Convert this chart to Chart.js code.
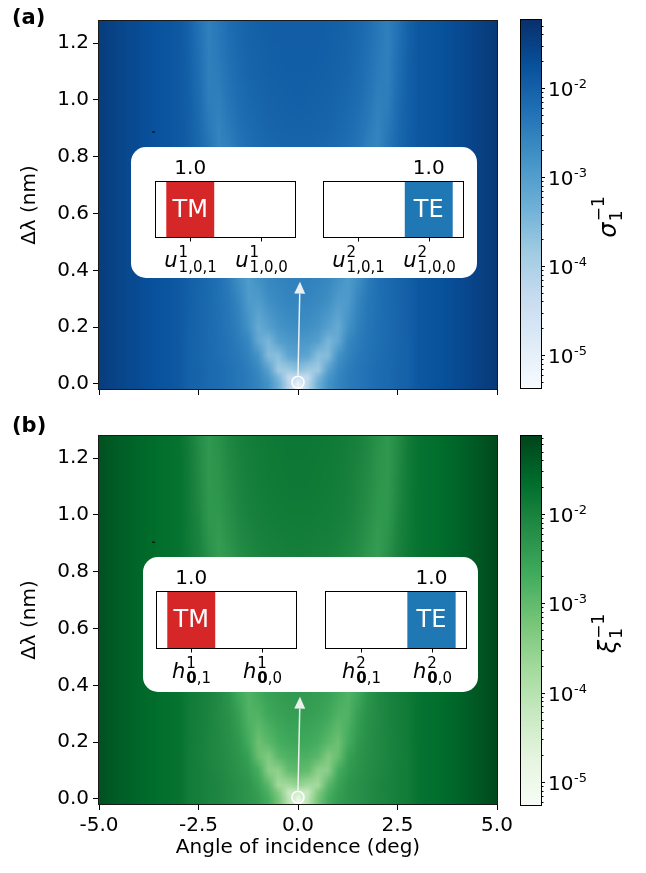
<!DOCTYPE html>
<html>
<head>
<meta charset="utf-8">
<title>Mode maps</title>
<script src="https://cdn.jsdelivr.net/npm/chart.js@4.4.1/dist/chart.umd.min.js"></script>
<style>
  body { margin: 0; background: #fff; }
  #fig { position: relative; width: 646px; height: 873px; overflow: hidden; background: #fff; }
  #fig canvas, #fig .box { position: absolute; }
  .box { background: #fff; border-radius: 15px; }
</style>
</head>
<body>
<div id="fig">
  <canvas id="mapA"></canvas>
  <canvas id="cbarA"></canvas>
  <canvas id="mapB"></canvas>
  <canvas id="cbarB"></canvas>
  <div class="box" id="boxA"></div>
  <canvas id="insA1"></canvas>
  <canvas id="insA2"></canvas>
  <div class="box" id="boxB"></div>
  <canvas id="insB1"></canvas>
  <canvas id="insB2"></canvas>
</div>
<script>
// grid: angle of incidence (deg) x wavelength detuning (nm)
const angles = [-5, -4.75, -4.5, -4.25, -4, -3.75, -3.5, -3.25, -3, -2.75, -2.5, -2.25, -2, -1.75, -1.5, -1.25, -1, -0.75, -0.5, -0.25,
  0, 0.25, 0.5, 0.75, 1, 1.25, 1.5, 1.75, 2, 2.25, 2.5, 2.75, 3, 3.25, 3.5, 3.75, 4, 4.25, 4.5, 4.75, 5];
const detunings = [0, 0.025, 0.05, 0.1, 0.15, 0.2, 0.3, 0.4, 0.5, 0.6, 0.7, 0.8, 0.9, 1.0, 1.1, 1.2, 1.3];

const angleTicks = [-5, -2.5, 0, 2.5, 5];
const detuningTicks = [0, 0.2, 0.4, 0.6, 0.8, 1.0, 1.2];
const angleRange = [-5, 5];
const detuningRange = [-0.018, 1.278];

// log10(sigma_1^-1), one row per detuning (0 nm first)
const sigmaLog = [
  [-1.44,-1.50,-1.56,-1.62,-1.68,-1.74,-1.79,-1.84,-1.88,-2.02,-2.06,-2.15,-2.19,-2.27,-2.35,-2.44,-2.56,-2.81,-3.30,-4.13,-5.20,-4.13,-3.30,-2.81,-2.56,-2.44,-2.35,-2.27,-2.19,-2.15,-2.06,-2.02,-1.87,-1.83,-1.78,-1.72,-1.66,-1.59,-1.52,-1.45,-1.38],
  [-1.44,-1.50,-1.56,-1.62,-1.68,-1.74,-1.79,-1.84,-1.88,-2.02,-2.06,-2.14,-2.19,-2.27,-2.35,-2.44,-2.60,-2.90,-3.45,-4.30,-4.45,-4.30,-3.45,-2.90,-2.60,-2.44,-2.35,-2.27,-2.19,-2.14,-2.06,-2.02,-1.87,-1.83,-1.78,-1.72,-1.66,-1.59,-1.52,-1.45,-1.38],
  [-1.44,-1.50,-1.56,-1.62,-1.68,-1.74,-1.79,-1.84,-1.88,-2.02,-2.06,-2.14,-2.19,-2.27,-2.35,-2.45,-2.65,-3.05,-3.85,-3.85,-3.65,-3.85,-3.85,-3.05,-2.65,-2.45,-2.35,-2.27,-2.19,-2.14,-2.06,-2.02,-1.87,-1.83,-1.78,-1.72,-1.66,-1.59,-1.52,-1.45,-1.38],
  [-1.44,-1.50,-1.56,-1.62,-1.68,-1.74,-1.79,-1.84,-1.88,-2.02,-2.07,-2.15,-2.22,-2.30,-2.40,-2.55,-2.82,-3.55,-3.60,-3.15,-3.05,-3.15,-3.60,-3.55,-2.82,-2.55,-2.40,-2.30,-2.22,-2.15,-2.07,-2.02,-1.87,-1.83,-1.78,-1.72,-1.66,-1.59,-1.52,-1.45,-1.38],
  [-1.44,-1.50,-1.56,-1.62,-1.68,-1.74,-1.79,-1.84,-1.88,-2.02,-2.08,-2.16,-2.23,-2.32,-2.45,-2.62,-3.20,-3.45,-3.05,-2.92,-2.88,-2.92,-3.05,-3.45,-3.20,-2.62,-2.45,-2.32,-2.23,-2.16,-2.08,-2.02,-1.87,-1.83,-1.78,-1.72,-1.66,-1.59,-1.52,-1.45,-1.38],
  [-1.44,-1.50,-1.56,-1.62,-1.68,-1.74,-1.79,-1.84,-1.88,-2.01,-2.08,-2.16,-2.24,-2.34,-2.50,-2.80,-3.25,-3.05,-2.85,-2.76,-2.73,-2.76,-2.85,-3.05,-3.25,-2.80,-2.50,-2.34,-2.24,-2.16,-2.08,-2.01,-1.87,-1.83,-1.78,-1.72,-1.66,-1.59,-1.52,-1.45,-1.38],
  [-1.44,-1.50,-1.56,-1.62,-1.68,-1.74,-1.79,-1.84,-1.88,-2.00,-2.07,-2.15,-2.25,-2.38,-2.60,-2.95,-2.95,-2.74,-2.64,-2.59,-2.57,-2.59,-2.64,-2.74,-2.95,-2.95,-2.60,-2.38,-2.25,-2.15,-2.07,-2.00,-1.87,-1.83,-1.78,-1.72,-1.66,-1.59,-1.52,-1.45,-1.38],
  [-1.44,-1.50,-1.56,-1.62,-1.68,-1.74,-1.79,-1.84,-1.88,-1.99,-2.06,-2.14,-2.26,-2.45,-2.80,-2.95,-2.72,-2.60,-2.54,-2.51,-2.50,-2.51,-2.54,-2.60,-2.72,-2.95,-2.80,-2.45,-2.26,-2.14,-2.06,-1.99,-1.87,-1.83,-1.78,-1.72,-1.66,-1.59,-1.52,-1.45,-1.38],
  [-1.44,-1.50,-1.56,-1.62,-1.68,-1.74,-1.79,-1.84,-1.88,-1.96,-2.04,-2.14,-2.28,-2.50,-2.78,-2.62,-2.50,-2.44,-2.40,-2.38,-2.37,-2.38,-2.40,-2.44,-2.50,-2.62,-2.78,-2.50,-2.28,-2.14,-2.04,-1.96,-1.87,-1.83,-1.78,-1.72,-1.66,-1.59,-1.52,-1.45,-1.38],
  [-1.44,-1.50,-1.56,-1.62,-1.68,-1.74,-1.79,-1.84,-1.88,-1.96,-2.05,-2.17,-2.36,-2.65,-2.70,-2.48,-2.38,-2.33,-2.30,-2.28,-2.27,-2.28,-2.30,-2.33,-2.38,-2.48,-2.70,-2.65,-2.36,-2.17,-2.05,-1.96,-1.87,-1.83,-1.78,-1.72,-1.66,-1.59,-1.52,-1.45,-1.38],
  [-1.44,-1.50,-1.56,-1.62,-1.68,-1.74,-1.79,-1.84,-1.88,-1.97,-2.07,-2.22,-2.48,-2.66,-2.50,-2.36,-2.28,-2.24,-2.21,-2.19,-2.18,-2.19,-2.21,-2.24,-2.28,-2.36,-2.50,-2.66,-2.48,-2.22,-2.07,-1.97,-1.87,-1.83,-1.78,-1.72,-1.66,-1.59,-1.52,-1.45,-1.38],
  [-1.44,-1.50,-1.56,-1.62,-1.68,-1.74,-1.79,-1.84,-1.88,-1.98,-2.10,-2.30,-2.58,-2.55,-2.36,-2.26,-2.19,-2.15,-2.12,-2.11,-2.10,-2.11,-2.12,-2.15,-2.19,-2.26,-2.36,-2.55,-2.58,-2.30,-2.10,-1.98,-1.87,-1.83,-1.78,-1.72,-1.66,-1.59,-1.52,-1.45,-1.38],
  [-1.44,-1.50,-1.56,-1.62,-1.68,-1.74,-1.79,-1.84,-1.88,-1.99,-2.14,-2.40,-2.56,-2.42,-2.27,-2.18,-2.12,-2.08,-2.06,-2.05,-2.04,-2.05,-2.06,-2.08,-2.12,-2.18,-2.27,-2.42,-2.56,-2.40,-2.14,-1.99,-1.87,-1.83,-1.78,-1.72,-1.66,-1.59,-1.52,-1.45,-1.38],
  [-1.44,-1.50,-1.56,-1.62,-1.68,-1.74,-1.79,-1.84,-1.88,-2.00,-2.18,-2.48,-2.50,-2.33,-2.20,-2.12,-2.07,-2.04,-2.02,-2.01,-2.00,-2.01,-2.02,-2.04,-2.07,-2.12,-2.20,-2.33,-2.50,-2.48,-2.18,-2.00,-1.87,-1.83,-1.78,-1.72,-1.66,-1.59,-1.52,-1.45,-1.38],
  [-1.44,-1.50,-1.56,-1.62,-1.68,-1.74,-1.79,-1.84,-1.88,-2.01,-2.22,-2.50,-2.44,-2.28,-2.16,-2.08,-2.04,-2.01,-1.99,-1.98,-1.98,-1.98,-1.99,-2.01,-2.04,-2.08,-2.16,-2.28,-2.44,-2.50,-2.22,-2.01,-1.87,-1.83,-1.78,-1.72,-1.66,-1.59,-1.52,-1.45,-1.38],
  [-1.44,-1.50,-1.56,-1.62,-1.68,-1.74,-1.79,-1.84,-1.88,-2.02,-2.26,-2.50,-2.40,-2.24,-2.13,-2.06,-2.02,-1.99,-1.97,-1.96,-1.96,-1.96,-1.97,-1.99,-2.02,-2.06,-2.13,-2.24,-2.40,-2.50,-2.26,-2.02,-1.87,-1.83,-1.78,-1.72,-1.66,-1.59,-1.52,-1.45,-1.38],
  [-1.44,-1.50,-1.56,-1.62,-1.68,-1.74,-1.79,-1.84,-1.88,-2.03,-2.30,-2.50,-2.36,-2.20,-2.10,-2.04,-2.00,-1.98,-1.96,-1.95,-1.95,-1.95,-1.96,-1.98,-2.00,-2.04,-2.10,-2.20,-2.36,-2.50,-2.30,-2.03,-1.87,-1.83,-1.78,-1.72,-1.66,-1.59,-1.52,-1.45,-1.38]
];

// log10(xi_1^-1), same grid
const xiLog = [
  [-1.30,-1.38,-1.45,-1.51,-1.57,-1.62,-1.67,-1.71,-1.75,-1.91,-1.95,-2.04,-2.08,-2.16,-2.24,-2.33,-2.45,-2.70,-3.19,-4.02,-5.09,-4.02,-3.19,-2.70,-2.45,-2.33,-2.24,-2.16,-2.08,-2.04,-1.95,-1.91,-1.76,-1.72,-1.67,-1.61,-1.54,-1.46,-1.38,-1.29,-1.20],
  [-1.30,-1.38,-1.45,-1.51,-1.57,-1.62,-1.67,-1.71,-1.75,-1.91,-1.95,-2.03,-2.08,-2.16,-2.24,-2.33,-2.49,-2.79,-3.34,-4.19,-4.34,-4.19,-3.34,-2.79,-2.49,-2.33,-2.24,-2.16,-2.08,-2.03,-1.95,-1.91,-1.76,-1.72,-1.67,-1.61,-1.54,-1.46,-1.38,-1.29,-1.20],
  [-1.30,-1.38,-1.45,-1.51,-1.57,-1.62,-1.67,-1.71,-1.75,-1.91,-1.95,-2.03,-2.08,-2.16,-2.24,-2.34,-2.54,-2.94,-3.74,-3.74,-3.54,-3.74,-3.74,-2.94,-2.54,-2.34,-2.24,-2.16,-2.08,-2.03,-1.95,-1.91,-1.76,-1.72,-1.67,-1.61,-1.54,-1.46,-1.38,-1.29,-1.20],
  [-1.30,-1.38,-1.45,-1.51,-1.57,-1.62,-1.67,-1.71,-1.75,-1.91,-1.96,-2.04,-2.11,-2.19,-2.29,-2.44,-2.71,-3.44,-3.49,-3.04,-2.94,-3.04,-3.49,-3.44,-2.71,-2.44,-2.29,-2.19,-2.11,-2.04,-1.96,-1.91,-1.76,-1.72,-1.67,-1.61,-1.54,-1.46,-1.38,-1.29,-1.20],
  [-1.30,-1.38,-1.45,-1.51,-1.57,-1.62,-1.67,-1.71,-1.75,-1.91,-1.97,-2.05,-2.12,-2.21,-2.34,-2.51,-3.09,-3.34,-2.94,-2.81,-2.77,-2.81,-2.94,-3.34,-3.09,-2.51,-2.34,-2.21,-2.12,-2.05,-1.97,-1.91,-1.76,-1.72,-1.67,-1.61,-1.54,-1.46,-1.38,-1.29,-1.20],
  [-1.30,-1.38,-1.45,-1.51,-1.57,-1.62,-1.67,-1.71,-1.75,-1.90,-1.97,-2.05,-2.13,-2.23,-2.39,-2.69,-3.14,-2.94,-2.74,-2.65,-2.62,-2.65,-2.74,-2.94,-3.14,-2.69,-2.39,-2.23,-2.13,-2.05,-1.97,-1.90,-1.76,-1.72,-1.67,-1.61,-1.54,-1.46,-1.38,-1.29,-1.20],
  [-1.30,-1.38,-1.45,-1.51,-1.57,-1.62,-1.67,-1.71,-1.75,-1.89,-1.96,-2.04,-2.14,-2.27,-2.49,-2.84,-2.84,-2.63,-2.53,-2.48,-2.46,-2.48,-2.53,-2.63,-2.84,-2.84,-2.49,-2.27,-2.14,-2.04,-1.96,-1.89,-1.76,-1.72,-1.67,-1.61,-1.54,-1.46,-1.38,-1.29,-1.20],
  [-1.30,-1.38,-1.45,-1.51,-1.57,-1.62,-1.67,-1.71,-1.75,-1.88,-1.95,-2.03,-2.15,-2.34,-2.69,-2.84,-2.61,-2.49,-2.43,-2.40,-2.39,-2.40,-2.43,-2.49,-2.61,-2.84,-2.69,-2.34,-2.15,-2.03,-1.95,-1.88,-1.76,-1.72,-1.67,-1.61,-1.54,-1.46,-1.38,-1.29,-1.20],
  [-1.30,-1.38,-1.45,-1.51,-1.57,-1.62,-1.67,-1.71,-1.75,-1.85,-1.93,-2.03,-2.17,-2.39,-2.67,-2.51,-2.39,-2.33,-2.29,-2.27,-2.26,-2.27,-2.29,-2.33,-2.39,-2.51,-2.67,-2.39,-2.17,-2.03,-1.93,-1.85,-1.76,-1.72,-1.67,-1.61,-1.54,-1.46,-1.38,-1.29,-1.20],
  [-1.30,-1.38,-1.45,-1.51,-1.57,-1.62,-1.67,-1.71,-1.75,-1.85,-1.94,-2.06,-2.25,-2.54,-2.59,-2.37,-2.27,-2.22,-2.19,-2.17,-2.16,-2.17,-2.19,-2.22,-2.27,-2.37,-2.59,-2.54,-2.25,-2.06,-1.94,-1.85,-1.76,-1.72,-1.67,-1.61,-1.54,-1.46,-1.38,-1.29,-1.20],
  [-1.30,-1.38,-1.45,-1.51,-1.57,-1.62,-1.67,-1.71,-1.75,-1.86,-1.96,-2.11,-2.37,-2.55,-2.39,-2.25,-2.17,-2.13,-2.10,-2.08,-2.07,-2.08,-2.10,-2.13,-2.17,-2.25,-2.39,-2.55,-2.37,-2.11,-1.96,-1.86,-1.76,-1.72,-1.67,-1.61,-1.54,-1.46,-1.38,-1.29,-1.20],
  [-1.30,-1.38,-1.45,-1.51,-1.57,-1.62,-1.67,-1.71,-1.75,-1.87,-1.99,-2.19,-2.47,-2.44,-2.25,-2.15,-2.08,-2.04,-2.01,-2.00,-1.99,-2.00,-2.01,-2.04,-2.08,-2.15,-2.25,-2.44,-2.47,-2.19,-1.99,-1.87,-1.76,-1.72,-1.67,-1.61,-1.54,-1.46,-1.38,-1.29,-1.20],
  [-1.30,-1.38,-1.45,-1.51,-1.57,-1.62,-1.67,-1.71,-1.75,-1.88,-2.03,-2.29,-2.45,-2.31,-2.16,-2.07,-2.01,-1.97,-1.95,-1.94,-1.93,-1.94,-1.95,-1.97,-2.01,-2.07,-2.16,-2.31,-2.45,-2.29,-2.03,-1.88,-1.76,-1.72,-1.67,-1.61,-1.54,-1.46,-1.38,-1.29,-1.20],
  [-1.30,-1.38,-1.45,-1.51,-1.57,-1.62,-1.67,-1.71,-1.75,-1.89,-2.07,-2.37,-2.39,-2.22,-2.09,-2.01,-1.96,-1.93,-1.91,-1.90,-1.89,-1.90,-1.91,-1.93,-1.96,-2.01,-2.09,-2.22,-2.39,-2.37,-2.07,-1.89,-1.76,-1.72,-1.67,-1.61,-1.54,-1.46,-1.38,-1.29,-1.20],
  [-1.30,-1.38,-1.45,-1.51,-1.57,-1.62,-1.67,-1.71,-1.75,-1.90,-2.11,-2.39,-2.33,-2.17,-2.05,-1.97,-1.93,-1.90,-1.88,-1.87,-1.87,-1.87,-1.88,-1.90,-1.93,-1.97,-2.05,-2.17,-2.33,-2.39,-2.11,-1.90,-1.76,-1.72,-1.67,-1.61,-1.54,-1.46,-1.38,-1.29,-1.20],
  [-1.30,-1.38,-1.45,-1.51,-1.57,-1.62,-1.67,-1.71,-1.75,-1.91,-2.15,-2.39,-2.29,-2.13,-2.02,-1.95,-1.91,-1.88,-1.86,-1.85,-1.85,-1.85,-1.86,-1.88,-1.91,-1.95,-2.02,-2.13,-2.29,-2.39,-2.15,-1.91,-1.76,-1.72,-1.67,-1.61,-1.54,-1.46,-1.38,-1.29,-1.20],
  [-1.30,-1.38,-1.45,-1.51,-1.57,-1.62,-1.67,-1.71,-1.75,-1.92,-2.19,-2.39,-2.25,-2.09,-1.99,-1.93,-1.89,-1.87,-1.85,-1.84,-1.84,-1.84,-1.85,-1.87,-1.89,-1.93,-1.99,-2.09,-2.25,-2.39,-2.19,-1.92,-1.76,-1.72,-1.67,-1.61,-1.54,-1.46,-1.38,-1.29,-1.20]
];

// colour limits (log10) and labelled decades of the colour bars
const sigmaLogRange = [-5.37, -1.236];
const xiLogRange = [-5.258, -1.127];
const cbarExponents = [-2, -3, -4, -5];

// mode weights shown in the insets
const uModes1 = ['u^{1}_{1,0,1}', 'u^{1}_{1,0,0}'];
const uModes2 = ['u^{2}_{1,0,1}', 'u^{2}_{1,0,0}'];
const hModes1 = ['h^{1}_{\\mathbf{0},1}', 'h^{1}_{\\mathbf{0},0}'];
const hModes2 = ['h^{2}_{\\mathbf{0},1}', 'h^{2}_{\\mathbf{0},0}'];
const tmWeights = [1.0, 0.0];
const teWeights = [0.0, 1.0];

// marked mode (deg, nm) and the arrow pointing to the insets
const spot = { x: 0, y: 0.006 };
const arrowTail = [0, 0.03];
const arrowTip = [0.05, 0.36];
const speckA = { x: -3.63, y: 0.887 };
const speckB = { x: -3.63, y: 0.904 };

const blues = ['#f7fbff', '#deebf7', '#c6dbef', '#9ecae1', '#6baed6', '#4292c6', '#2171b5', '#08519c', '#08306b'];
const greens = ['#f7fcf5', '#e5f5e0', '#c7e9c0', '#a1d99b', '#74c476', '#41ab5d', '#238b45', '#006d2c', '#00441b'];

const FAM = '"DejaVu Sans", sans-serif';
Chart.defaults.font.family = FAM;
Chart.defaults.font.size = 20;
Chart.defaults.color = '#000';
Chart.defaults.animation = false;
Chart.defaults.events = [];
Chart.defaults.plugins.legend.display = false;
Chart.defaults.plugins.tooltip.enabled = false;

function hexRgb(h) {
  return [1, 3, 5].map(i => parseInt(h.substr(i, 2), 16));
}

function cmap(stops, t) {
  t = Math.min(1, Math.max(0, t));
  const p = t * (stops.length - 1);
  const i = Math.min(stops.length - 2, Math.floor(p));
  const f = p - i;
  const a = hexRgb(stops[i]), b = hexRgb(stops[i + 1]);
  return [0, 1, 2].map(k => Math.round(a[k] + (b[k] - a[k]) * f));
}

function place(id, left, top, w, h) {
  const el = document.getElementById(id);
  el.width = w; el.height = h;
  el.style.left = left + 'px'; el.style.top = top + 'px';
  el.style.width = w + 'px'; el.style.height = h + 'px';
  return el;
}

// tiny parser for labels like u^{1}_{1,0,1} and h^{1}_{\mathbf{0},1}
function texParts(s) {
  const m = s.match(/^(.+?)\^\{(.*?)\}_\{(.*)\}$/);
  const sub = [];
  m[3].replace(/\\mathbf\{(.*?)\}|([^\\]+)/g, (all, b, n) => {
    sub.push(b !== undefined ? { t: b, bold: true } : { t: n, bold: false });
    return all;
  });
  return { base: m[1], sup: m[2], sub };
}

function drawTex(ctx, s, cx, baseline, size) {
  const p = texParts(s);
  const small = Math.round(size * 0.7);
  ctx.textAlign = 'left';
  ctx.textBaseline = 'alphabetic';
  ctx.font = `italic ${size}px ${FAM}`;
  const wBase = ctx.measureText(p.base).width;
  ctx.font = `${small}px ${FAM}`;
  const wSup = ctx.measureText(p.sup).width;
  let wSub = 0;
  p.sub.forEach(seg => {
    ctx.font = `${seg.bold ? 'bold ' : ''}${small}px ${FAM}`;
    wSub += ctx.measureText(seg.t).width;
  });
  const gap = size * 0.05;
  let x = cx - (wBase + gap + Math.max(wSup, wSub)) / 2;
  ctx.font = `italic ${size}px ${FAM}`;
  ctx.fillText(p.base, x, baseline);
  x += wBase + gap;
  ctx.font = `${small}px ${FAM}`;
  ctx.fillText(p.sup, x, baseline - size * 0.5);
  p.sub.forEach(seg => {
    ctx.font = `${seg.bold ? 'bold ' : ''}${small}px ${FAM}`;
    ctx.fillText(seg.t, x, baseline + size * 0.25);
    x += ctx.measureText(seg.t).width;
  });
}

// one pixel per grid node, highest detuning on the top row
function buildMap(rows, range, stops) {
  const c = document.createElement('canvas');
  c.width = angles.length; c.height = detunings.length;
  const g = c.getContext('2d');
  const im = g.createImageData(c.width, c.height);
  for (let k = 0; k < c.height; k++) {
    const row = rows[c.height - 1 - k];
    for (let i = 0; i < c.width; i++) {
      const rgb = cmap(stops, (row[i] - range[0]) / (range[1] - range[0]));
      const o = (k * c.width + i) * 4;
      im.data[o] = rgb[0]; im.data[o + 1] = rgb[1]; im.data[o + 2] = rgb[2]; im.data[o + 3] = 255;
    }
  }
  g.putImageData(im, 0, 0);
  return c;
}

function mapPlugin(rows, range, stops, letter) {
  let img = null;
  return {
    id: 'map',
    beforeDatasetsDraw(chart) {
      const { ctx, chartArea: a, scales: { x, y } } = chart;
      if (!img) img = buildMap(rows, range, stops);
      const W = angles.length, N = detunings.length;
      const xl = x.getPixelForValue(angles[0]);
      const xr = x.getPixelForValue(angles[W - 1]);
      ctx.save();
      ctx.beginPath();
      ctx.rect(a.left, a.top, a.width, a.height);
      ctx.clip();
      ctx.imageSmoothingEnabled = true;
      ctx.imageSmoothingQuality = 'low';
      // shade each band between two detuning rows
      for (let j = 0; j < N - 1; j++) {
        const yTop = Math.round(y.getPixelForValue(detunings[j + 1]));
        const yBot = Math.round(y.getPixelForValue(detunings[j]));
        if (yBot <= yTop) continue;
        ctx.drawImage(img, 0.5, N - 2 - j + 0.5, W - 1, 1, xl, yTop, xr - xl, yBot - yTop);
      }
      const y0 = Math.round(y.getPixelForValue(detunings[0]));
      ctx.drawImage(img, 0.5, N - 1 + 0.45, W - 1, 0.1, xl, y0, xr - xl, a.bottom - y0 + 1);
      ctx.restore();
    },
    afterDatasetsDraw(chart) {
      const { ctx, scales: { x, y } } = chart;
      const px = x.getPixelForValue(arrowTail[0]), py = y.getPixelForValue(arrowTail[1]);
      const qx = x.getPixelForValue(arrowTip[0]), qy = y.getPixelForValue(arrowTip[1]);
      const ang = Math.atan2(qy - py, qx - px);
      const hl = 12, hw = 5.5;
      const bx = qx - hl * Math.cos(ang), by = qy - hl * Math.sin(ang);
      ctx.save();
      ctx.strokeStyle = ctx.fillStyle = 'rgba(244,244,244,0.95)';
      ctx.lineWidth = 1.5;
      ctx.beginPath(); ctx.moveTo(px, py); ctx.lineTo(bx, by); ctx.stroke();
      ctx.beginPath();
      ctx.moveTo(qx, qy);
      ctx.lineTo(bx - hw * Math.sin(ang), by + hw * Math.cos(ang));
      ctx.lineTo(bx + hw * Math.sin(ang), by - hw * Math.cos(ang));
      ctx.closePath(); ctx.fill();
      ctx.restore();
    },
    afterDraw(chart) {
      const { ctx, chartArea: a } = chart;
      ctx.save();
      ctx.strokeStyle = '#1a1a1a';
      ctx.lineWidth = 1;
      ctx.strokeRect(Math.round(a.left) - 0.5, Math.round(a.top) - 0.5, Math.round(a.width) + 1, Math.round(a.height) + 1);
      ctx.fillStyle = '#000';
      ctx.font = `bold 21px ${FAM}`;
      ctx.textAlign = 'left';
      ctx.textBaseline = 'middle';
      ctx.fillText(letter.text, letter.x, letter.y);
      ctx.restore();
    }
  };
}

function mapChart(id, rows, range, stops, speck, withX, letter) {
  return new Chart(document.getElementById(id), {
    type: 'scatter',
    data: {
      datasets: [
        { data: [spot], pointRadius: 6, pointBorderWidth: 1.5, pointBorderColor: '#fff', pointBackgroundColor: 'rgba(0,0,0,0)', clip: false },
        { data: [speck], pointStyle: 'line', pointRadius: 1.5, pointBorderWidth: 1, pointBorderColor: '#000' }
      ]
    },
    options: {
      responsive: false,
      devicePixelRatio: 1,
      layout: { autoPadding: false, padding: { top: 21, right: 33, left: 0, bottom: 0 } },
      scales: {
        x: {
          type: 'linear', min: angleRange[0], max: angleRange[1],
          afterBuildTicks: s => { s.ticks = angleTicks.map(v => ({ value: v })); },
          afterFit: s => { s.height = withX ? 69 : 31; },
          border: { display: false },
          grid: { drawOnChartArea: false, color: '#000', tickLength: 6 },
          ticks: { display: withX, padding: 4, maxRotation: 0, autoSkip: false, callback: v => v.toFixed(1) },
          title: { display: withX, text: 'Angle of incidence (deg)', padding: { top: 0, bottom: 13 } }
        },
        y: {
          type: 'linear', min: detuningRange[0], max: detuningRange[1],
          afterBuildTicks: s => { s.ticks = detuningTicks.map(v => ({ value: v })); },
          afterFit: s => { s.width = 99; },
          border: { display: false },
          grid: { drawOnChartArea: false, color: '#000', tickLength: 6 },
          ticks: { padding: 4, autoSkip: false, callback: v => v.toFixed(1) },
          title: { display: true, text: 'Δλ (nm)', padding: { top: 18, bottom: 0 } }
        }
      }
    },
    plugins: [mapPlugin(rows, range, stops, letter)]
  });
}

function colorbarPlugin(range, stops, symbol) {
  return {
    id: 'cbar',
    afterDraw(chart) {
      const { ctx, chartArea: a, scales: { y } } = chart;
      const L = Math.round(a.left), R = Math.round(a.right);
      ctx.save();
      for (let py = Math.round(a.top); py < Math.round(a.bottom); py++) {
        const v = Math.log10(y.getValueForPixel(py + 0.5));
        const c = cmap(stops, (v - range[0]) / (range[1] - range[0]));
        ctx.fillStyle = `rgb(${c[0]},${c[1]},${c[2]})`;
        ctx.fillRect(L, py, R - L, 1);
      }
      ctx.strokeStyle = '#000';
      ctx.lineWidth = 1;
      ctx.strokeRect(L - 0.5, Math.round(a.top) - 0.5, R - L + 1, Math.round(a.bottom) - Math.round(a.top) + 1);
      // minor ticks
      ctx.beginPath();
      for (let e = Math.floor(range[0]); e < Math.ceil(range[1]); e++) {
        for (let m = 2; m <= 9; m++) {
          const v = m * Math.pow(10, e);
          if (Math.log10(v) < range[0] || Math.log10(v) > range[1]) continue;
          const ty = Math.round(y.getPixelForValue(v)) + 0.5;
          ctx.moveTo(R, ty); ctx.lineTo(R + 2.5, ty);
        }
      }
      ctx.stroke();
      // decades
      ctx.fillStyle = '#000';
      ctx.textBaseline = 'alphabetic';
      ctx.textAlign = 'left';
      cbarExponents.forEach(e => {
        const ty = Math.round(y.getPixelForValue(Math.pow(10, e))) + 0.5;
        ctx.beginPath(); ctx.moveTo(R, ty); ctx.lineTo(R + 4, ty); ctx.stroke();
        ctx.font = `20px ${FAM}`;
        ctx.fillText('10', R + 7, ty + 7);
        const w = ctx.measureText('10').width;
        ctx.font = `13px ${FAM}`;
        ctx.fillText(String(e), R + 7 + w + 0.5, ty - 1);
      });
      // colour bar label, rotated
      ctx.translate(R + 68, (a.top + a.bottom) / 2 + 13);
      ctx.rotate(-Math.PI / 2);
      drawTex(ctx, symbol + '^{\u22121}_{1}', 0, 7, 24);
      ctx.restore();
    }
  };
}

function colorbarChart(id, range, stops, symbol, pad) {
  return new Chart(document.getElementById(id), {
    type: 'scatter',
    data: { datasets: [] },
    options: {
      responsive: false,
      devicePixelRatio: 1,
      layout: { autoPadding: false, padding: pad },
      scales: {
        x: { display: false },
        y: { type: 'logarithmic', display: false, min: Math.pow(10, range[0]), max: Math.pow(10, range[1]) }
      }
    },
    plugins: [colorbarPlugin(range, stops, symbol)]
  });
}

const insetPlugin = {
  id: 'inset',
  afterDatasetsDraw(chart) {
    const { ctx, chartArea: a, scales: { x } } = chart;
    const ds = chart.data.datasets[0];
    ctx.save();
    chart.getDatasetMeta(0).data.forEach((bar, i) => {
      const v = ds.data[i];
      if (v <= 0) return;
      ctx.fillStyle = '#000';
      ctx.font = `20px ${FAM}`;
      ctx.textAlign = 'center';
      ctx.textBaseline = 'alphabetic';
      ctx.fillText(v.toFixed(1), bar.x, a.top - 7);
      ctx.fillStyle = '#fff';
      ctx.font = `24px ${FAM}`;
      ctx.textBaseline = 'middle';
      ctx.fillText(ds.label, bar.x, (bar.y + bar.base) / 2 + 1);
    });
    ctx.strokeStyle = '#000';
    ctx.lineWidth = 1;
    ctx.strokeRect(Math.round(a.left) + 0.5, Math.round(a.top) + 0.5, Math.round(a.width) - 1, Math.round(a.height) - 1);
    ctx.fillStyle = '#000';
    chart.data.labels.forEach((lab, i) => {
      const tx = Math.round(x.getPixelForValue(i)) + 0.5;
      ctx.beginPath(); ctx.moveTo(tx, a.bottom); ctx.lineTo(tx, a.bottom + 3.5); ctx.stroke();
      drawTex(ctx, lab, tx, a.bottom + 29, 21);
    });
    ctx.restore();
  }
};

function insetChart(id, frame, cats, weights, name, color) {
  const [fx, fy, fw, fh] = frame;
  const cv = place(id, fx - 20, fy - 34, fw + 40, fh + 80);
  return new Chart(cv, {
    type: 'bar',
    data: {
      labels: cats,
      datasets: [{ label: name, data: weights, backgroundColor: color, barPercentage: 0.68, categoryPercentage: 1 }]
    },
    options: {
      responsive: false,
      devicePixelRatio: 1,
      layout: { autoPadding: false, padding: { left: 20, right: 20, top: 34, bottom: 46 } },
      scales: {
        x: { display: false, offset: true },
        y: { display: false, min: 0, max: 1 }
      }
    },
    plugins: [insetPlugin]
  });
}

function placeBox(id, left, top, w, h) {
  const el = document.getElementById(id);
  Object.assign(el.style, { left: left + 'px', top: top + 'px', width: w + 'px', height: h + 'px' });
}

// panel (a)
place('mapA', 0, 0, 530, 420);
place('cbarA', 505, 0, 141, 420);
mapChart('mapA', sigmaLog, sigmaLogRange, blues, speckA, false, { text: '(a)', x: 12, y: 19 });
colorbarChart('cbarA', sigmaLogRange, blues, '\u03c3', { left: 16, right: 105, top: 20, bottom: 32 });
placeBox('boxA', 131, 147, 346, 131);
insetChart('insA1', [155, 181, 141, 57], uModes1, tmWeights, 'TM', '#d62728');
insetChart('insA2', [323, 181, 141, 57], uModes2, teWeights, 'TE', '#1f77b4');

// panel (b)
place('mapB', 0, 415, 530, 458);
place('cbarB', 505, 415, 141, 458);
mapChart('mapB', xiLog, xiLogRange, greens, speckB, true, { text: '(b)', x: 12, y: 12 });
colorbarChart('cbarB', xiLogRange, greens, '\u03be', { left: 16, right: 105, top: 21, bottom: 68 });
placeBox('boxB', 143, 557, 335, 135);
insetChart('insB1', [156, 591, 141, 58], hModes1, tmWeights, 'TM', '#d62728');
insetChart('insB2', [325, 591, 142, 58], hModes2, teWeights, 'TE', '#1f77b4');
</script>
</body>
</html>
